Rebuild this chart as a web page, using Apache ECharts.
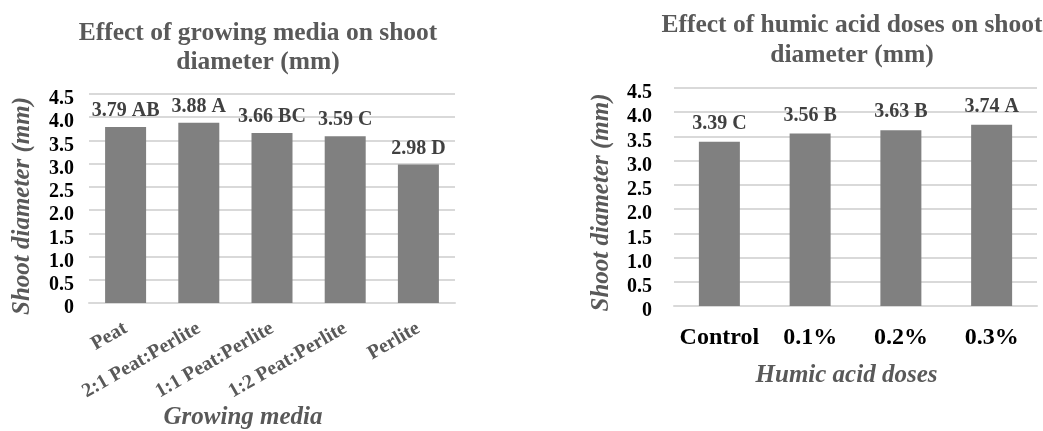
<!DOCTYPE html>
<html>
<head>
<meta charset="utf-8">
<script src="https://cdn.jsdelivr.net/npm/echarts@6/dist/echarts.min.js"></script>
<style>
html,body{margin:0;padding:0;background:#fff;}
#c{width:1043px;height:431px;}
</style>
</head>
<body>
<div id="c"></div>
<script>
// ---- Data ----
const mediaCategories = ['Peat', '2:1 Peat:Perlite', '1:1 Peat:Perlite', '1:2 Peat:Perlite', 'Perlite'];
const mediaValues = [3.79, 3.88, 3.66, 3.59, 2.98];
const mediaLetters = ['AB', 'A', 'BC', 'C', 'D'];

const humicCategories = ['Control', '0.1%', '0.2%', '0.3%'];
const humicValues = [3.39, 3.56, 3.63, 3.74];
const humicLetters = ['C', 'B', 'B', 'A'];

const titleLeft = 'Effect of growing media on shoot\ndiameter (mm)';
const titleRight = 'Effect of humic acid doses on shoot\ndiameter (mm)';
const yAxisName = 'Shoot diameter (mm)';
const xNameLeft = 'Growing media';
const xNameRight = 'Humic acid doses';

// ---- Styles ----
const SERIF = '"Liberation Serif", "Times New Roman", serif';
const GRAY = '#595959';
const GRID_C = '#d9d9d9';
const BAR_C = '#808080';

function yAxisDef(gridIndex, margin, nameGap, shift) {
  return {
    type: 'value', gridIndex: gridIndex, min: 0, max: 4.5, interval: 0.5,
    name: yAxisName, nameLocation: 'middle', nameGap: nameGap,
    nameTextStyle: {fontFamily: SERIF, fontWeight: 'bold', fontStyle: 'italic', fontSize: 25, color: GRAY,
      padding: [0, shift, 0, 0]},
    axisLine: {show: false}, axisTick: {show: false},
    axisLabel: {
      margin: margin, fontFamily: SERIF, fontWeight: 'bold', fontSize: 20, color: '#000',
      verticalAlign: 'top', lineHeight: 10,
      formatter: v => v === 0 ? '0' : v.toFixed(1)
    },
    splitLine: {lineStyle: {color: GRID_C, width: 2}}
  };
}

const chart = echarts.init(document.getElementById('c'), null, {renderer: 'canvas'});
chart.setOption({
  animation: false,
  backgroundColor: '#fff',
  title: [
    {text: titleLeft, left: 253, top: 14, textAlign: 'center',
     textStyle: {fontFamily: SERIF, fontWeight: 'bold', fontSize: 25.5, color: GRAY, lineHeight: 29}},
    {text: titleRight, left: 847, top: 5, textAlign: 'center',
     textStyle: {fontFamily: SERIF, fontWeight: 'bold', fontSize: 25.5, color: GRAY, lineHeight: 30}}
  ],
  grid: [
    {left: 89, top: 94, width: 366, height: 210},
    {left: 674, top: 88, width: 363, height: 218}
  ],
  xAxis: [
    {type: 'category', gridIndex: 0, data: mediaCategories,
     name: xNameLeft, nameLocation: 'middle', nameGap: 102,
     nameTextStyle: {fontFamily: SERIF, fontWeight: 'bold', fontStyle: 'italic', fontSize: 25, color: GRAY, padding: [0, 58, 0, 0], verticalAlign: 'top'},
     axisLine: {lineStyle: {color: GRID_C, width: 2}}, axisTick: {show: false},
     axisLabel: {rotate: 30, margin: 24, interval: 0, fontFamily: SERIF, fontWeight: 'bold', fontSize: 20, color: GRAY}},
    {type: 'category', gridIndex: 1, data: humicCategories,
     name: xNameRight, nameLocation: 'middle', nameGap: 57,
     nameTextStyle: {fontFamily: SERIF, fontWeight: 'bold', fontStyle: 'italic', fontSize: 25, color: GRAY, padding: [0, 18, 0, 0], verticalAlign: 'top'},
     axisLine: {lineStyle: {color: GRID_C, width: 2}}, axisTick: {show: false},
     axisLabel: {margin: 20, interval: 0, fontFamily: SERIF, fontWeight: 'bold', fontSize: 24, color: '#000'}}
  ],
  yAxis: [yAxisDef(0, 15, 54, 15), yAxisDef(1, 22, 60, 11)],
  series: [
    {type: 'bar', xAxisIndex: 0, yAxisIndex: 0, data: mediaValues, barWidth: 41,
     itemStyle: {color: BAR_C},
     label: {show: true, position: 'top', distance: 6, fontFamily: SERIF, fontWeight: 'bold', fontSize: 20, color: '#404040',
       formatter: p => p.value.toFixed(2) + ' ' + mediaLetters[p.dataIndex]}},
    {type: 'bar', xAxisIndex: 1, yAxisIndex: 1, data: humicValues, barWidth: 41,
     itemStyle: {color: BAR_C},
     label: {show: true, position: 'top', distance: 8, fontFamily: SERIF, fontWeight: 'bold', fontSize: 20, color: '#404040',
       formatter: p => p.value.toFixed(2) + ' ' + humicLetters[p.dataIndex]}}
  ]
});
</script>
</body>
</html>
